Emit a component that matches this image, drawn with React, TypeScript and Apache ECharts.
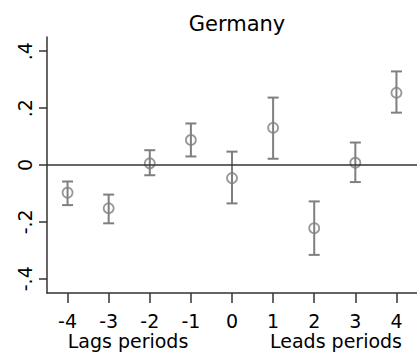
import React, { useEffect, useRef } from "react";
import * as echarts from "echarts";

const periods = [-4, -3, -2, -1, 0, 1, 2, 3, 4];
const estimates = [-0.097, -0.152, 0.006, 0.088, -0.046, 0.131, -0.222, 0.008, 0.254];
const upperCI = [-0.058, -0.104, 0.052, 0.146, 0.047, 0.237, -0.128, 0.079, 0.329];
const lowerCI = [-0.141, -0.205, -0.036, 0.03, -0.135, 0.022, -0.316, -0.06, 0.184];
const yTickValues = [-0.4, -0.2, 0, 0.2, 0.4];
const yTickLabels = ["-.4", "-.2", "0", ".2", ".4"];
const xTickLabels = ["-4", "-3", "-2", "-1", "0", "1", "2", "3", "4"];

const MARK = "#7f7f7f";
const AXIS = "#333333";
const FONT = "'DejaVu Sans', sans-serif";

export default function App() {
  const ref = useRef<HTMLDivElement>(null);
  useEffect(() => {
    const chart = echarts.init(ref.current!, null, { renderer: "svg" });
    const errData = periods.map((p, i) => [p, lowerCI[i], upperCI[i]]);
    chart.setOption({
      animation: false,
      title: {
        text: "Germany",
        left: 232,
        top: 8,
        textAlign: "center",
        textStyle: { fontFamily: FONT, fontSize: 21, fontWeight: "normal", color: "#000" },
      },
      grid: { left: 47, right: -1, top: 37, bottom: 67 },
      xAxis: {
        type: "value",
        min: -4.5,
        max: 4.5,
        splitLine: { show: false },
        axisLine: { onZero: false, lineStyle: { color: AXIS, width: 1.5 } },
        axisTick: { show: true, length: 10, customValues: periods, lineStyle: { color: AXIS, width: 1.5 } },
        axisLabel: {
          customValues: periods,
          margin: 18,
          fontFamily: FONT,
          fontSize: 19,
          color: "#000",
          formatter: (v: number) => xTickLabels[periods.indexOf(v)] ?? "",
        },
      },
      yAxis: {
        type: "value",
        min: -0.45,
        max: 0.45,
        splitLine: { show: false },
        axisLine: { show: true, onZero: false, lineStyle: { color: AXIS, width: 1.5 } },
        axisTick: { show: true, length: 8, customValues: yTickValues, lineStyle: { color: AXIS, width: 1.5 } },
        axisLabel: {
          customValues: yTickValues,
          rotate: 90,
          margin: 13,
          fontFamily: FONT,
          fontSize: 19,
          color: "#000",
          formatter: (v: number) => {
            const idx = yTickValues.findIndex((t) => Math.abs(t - v) < 1e-9);
            return idx >= 0 ? yTickLabels[idx] : "";
          },
        },
      },
      graphic: [
        {
          type: "text",
          x: 128,
          y: 341,
          style: { text: "Lags periods", fontFamily: FONT, fontSize: 19, fill: "#000", textAlign: "center", textVerticalAlign: "middle" },
        },
        {
          type: "text",
          x: 336,
          y: 341,
          style: { text: "Leads periods", fontFamily: FONT, fontSize: 19, fill: "#000", textAlign: "center", textVerticalAlign: "middle" },
        },
      ],
      series: [
        {
          type: "line",
          data: [],
          markLine: {
            silent: true,
            symbol: "none",
            label: { show: false },
            lineStyle: { color: AXIS, width: 1.5, type: "solid" },
            data: [{ yAxis: 0 }],
          },
        },
        {
          type: "custom",
          data: errData,
          renderItem: (params: any, api: any) => {
            const x = api.value(0);
            const lo = api.coord([x, api.value(1)]);
            const hi = api.coord([x, api.value(2)]);
            const hw = 5.5;
            const style = { stroke: MARK, lineWidth: 2, fill: "none" };
            return {
              type: "group",
              children: [
                { type: "line", shape: { x1: lo[0], y1: lo[1], x2: hi[0], y2: hi[1] }, style },
                { type: "line", shape: { x1: lo[0] - hw, y1: lo[1], x2: lo[0] + hw, y2: lo[1] }, style },
                { type: "line", shape: { x1: hi[0] - hw, y1: hi[1], x2: hi[0] + hw, y2: hi[1] }, style },
              ],
            };
          },
          z: 3,
        },
        {
          type: "scatter",
          data: periods.map((p, i) => [p, estimates[i]]),
          symbol: "circle",
          symbolSize: 10,
          itemStyle: { color: "rgba(0,0,0,0)", borderColor: MARK, borderWidth: 1.8 },
          z: 4,
        },
      ],
    });
    return () => chart.dispose();
  }, []);
  return <div ref={ref} style={{ width: 417, height: 360, position: "absolute", left: 0, top: 0 }} />;
}
